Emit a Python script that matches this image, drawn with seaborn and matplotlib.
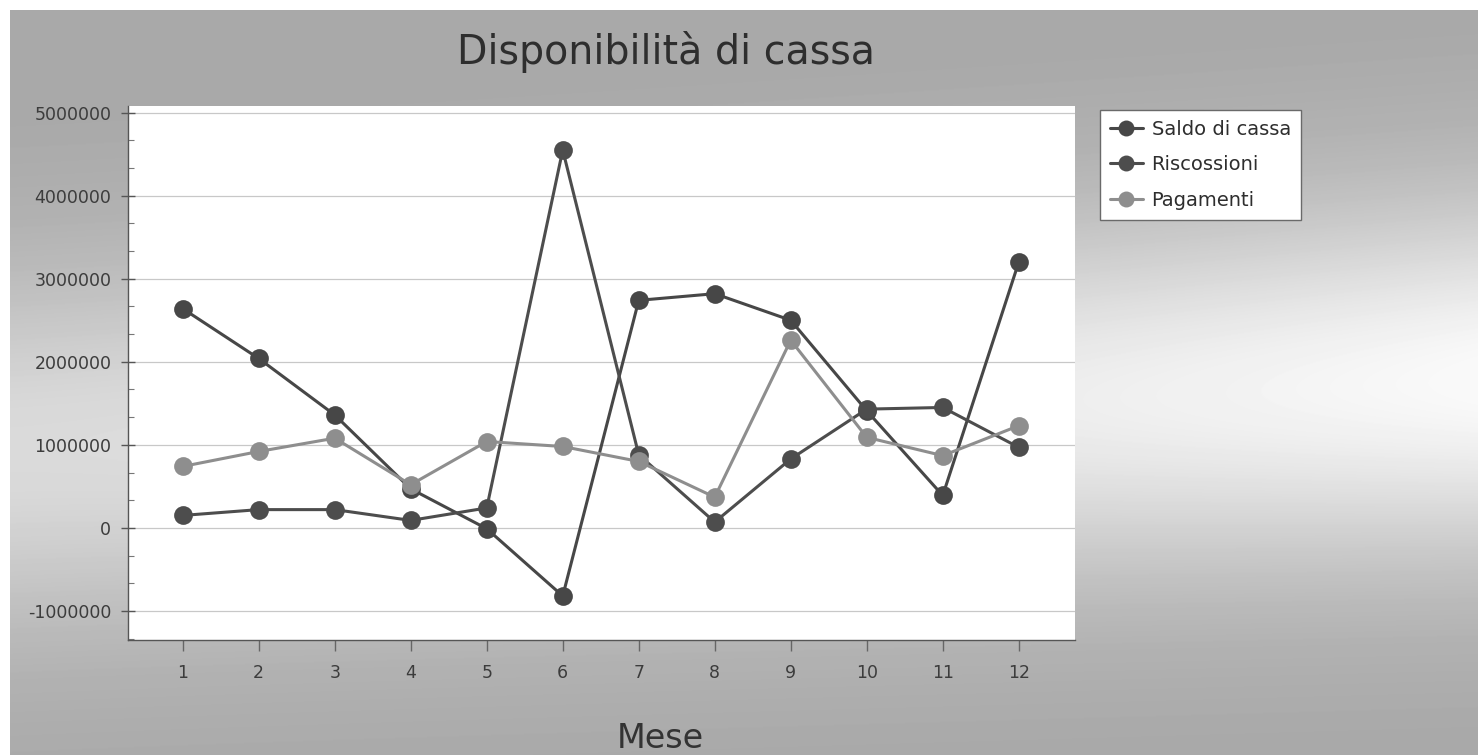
import numpy as np
import pandas as pd
import matplotlib
matplotlib.use("Agg")
import matplotlib.pyplot as plt
from matplotlib.ticker import MultipleLocator, FuncFormatter
import seaborn as sns

# Monthly cash figures
mesi = list(range(1, 13))
saldo_di_cassa = [2640000, 2040000, 1360000, 470000, -10000, -820000,
                  2740000, 2820000, 2500000, 1410000, 390000, 3200000]
riscossioni = [150000, 220000, 220000, 90000, 240000, 4550000,
               880000, 70000, 830000, 1430000, 1450000, 970000]
pagamenti = [740000, 920000, 1080000, 520000, 1040000, 980000,
             800000, 370000, 2260000, 1090000, 870000, 1230000]
serie_nomi = ["Saldo di cassa", "Riscossioni", "Pagamenti"]

df = pd.DataFrame({
    "Mese": mesi * 3,
    "Valore": saldo_di_cassa + riscossioni + pagamenti,
    "Serie": [n for n in serie_nomi for _ in mesi],
})

sns.set_theme(style="white")
plt.rcParams["font.family"] = ["DejaVu Sans"]

W, H = 1478, 755
fig = plt.figure(figsize=(W / 100, H / 100), dpi=100)
fig.patch.set_facecolor("white")

# Grey gradient backdrop behind the chart
bg = fig.add_axes([10 / W, 0, 1 - 10 / W, 1 - 10 / H])
yy, xx = np.mgrid[0:H - 10, 0:W - 10]
yy = yy + 10
fx = xx / W
centre = 450 - 70 * fx
band = np.exp(-((yy - centre) / 180.0) ** 2)
shade = 0.66 + 0.32 * band * (0.62 + 0.38 * fx ** 1.5)
bg.imshow(np.clip(shade, 0, 1), cmap="gray", vmin=0, vmax=1,
          aspect="auto", interpolation="bilinear")
bg.set_axis_off()
bg.set_zorder(-10)

ax = fig.add_axes([128 / W, 1 - 640 / H, (1075 - 128) / W, (640 - 106) / H])
ax.set_facecolor("white")

colori = {"Saldo di cassa": "#474747", "Riscossioni": "#4d4d4d",
          "Pagamenti": "#8e8e8e"}
for nome in serie_nomi:
    sns.lineplot(data=df[df["Serie"] == nome], x="Mese", y="Valore",
                 ax=ax, color=colori[nome], linewidth=2.2, marker="o",
                 markersize=13.5, markeredgewidth=0, label=nome,
                 estimator=None, zorder=3)

ax.set_xlim(0.28, 12.74)
ax.set_ylim(-1350000, 5080000)
ax.set_xticks(mesi)
ax.yaxis.set_major_locator(MultipleLocator(1000000))
ax.yaxis.set_minor_locator(MultipleLocator(1000000 / 3))
ax.yaxis.set_major_formatter(FuncFormatter(lambda v, p: f"{int(round(v))}"))

ax.grid(axis="y", which="major", color="#c8c8c8", linewidth=0.9, linestyle="-")
ax.grid(axis="x", visible=False)

for s in ["top", "right"]:
    ax.spines[s].set_visible(False)
for s in ["left", "bottom"]:
    ax.spines[s].set_color("#555555")
    ax.spines[s].set_linewidth(1.0)

ax.tick_params(axis="y", which="major", direction="inout", length=10, width=1,
               color="#555555", labelsize=12.5, labelcolor="#3c3c3c", pad=7,
               left=True)
ax.tick_params(axis="y", which="minor", direction="in", length=4, width=0.8,
               color="#777777", left=True)
ax.tick_params(axis="x", which="major", direction="out", length=8, width=1,
               color="#666666", labelsize=12.5, labelcolor="#3c3c3c", pad=9,
               bottom=True)

ax.set_xlabel("")
ax.set_ylabel("")
fig.text(660 / W, 1 - 738 / H, "Mese", ha="center", va="center",
         fontsize=24, color="#333333")

fig.text(666 / W, 1 - 52 / H, "Disponibilità di cassa", ha="center",
         va="center", fontsize=28.5, color="#2e2e2e")

if ax.get_legend():
    ax.get_legend().remove()
handles, labels = ax.get_legend_handles_labels()
leg = fig.legend(handles, labels, loc="upper left",
                 bbox_to_anchor=(1100 / W, 1 - 110 / H), borderaxespad=0,
                 fontsize=14, frameon=True, fancybox=False, framealpha=1,
                 edgecolor="#6a6a6a", facecolor="white", handlelength=1.7,
                 handletextpad=0.45, borderpad=0.5, labelspacing=0.85,
                 markerscale=0.85)
leg.get_frame().set_linewidth(1.0)
for t in leg.get_texts():
    t.set_color("#2e2e2e")

fig.savefig("out.png", dpi=100)
